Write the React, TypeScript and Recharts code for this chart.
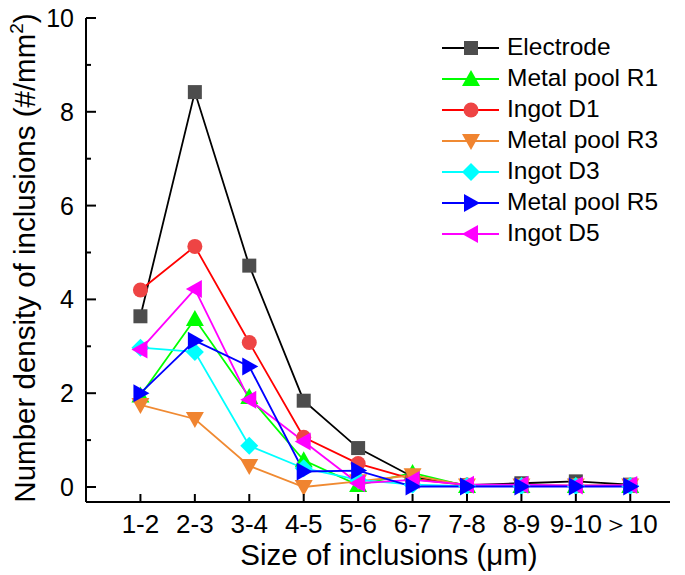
import React from "react"
import { LineChart, Line, XAxis, YAxis, Legend } from "recharts"

const sizes = ["1-2", "2-3", "3-4", "4-5", "5-6", "6-7", "7-8", "8-9", "9-10", "＞10"]
const electrode = [3.64, 8.42, 4.72, 1.84, 0.83, 0.22, 0.04, 0.08, 0.12, 0.05]
const metalPoolR1 = [1.95, 3.58, 1.92, 0.57, 0.04, 0.3, 0.02, 0.02, 0.02, 0.02]
const ingotD1 = [4.2, 5.13, 3.08, 1.06, 0.5, 0.17, 0.04, 0.03, 0.03, 0.03]
const metalPoolR3 = [1.75, 1.45, 0.45, 0.0, 0.12, 0.25, 0.03, 0.03, 0.03, 0.03]
const ingotD3 = [2.97, 2.88, 0.88, 0.4, 0.15, 0.05, 0.02, 0.02, 0.02, 0.02]
const metalPoolR5 = [2.0, 3.12, 2.57, 0.33, 0.35, 0.01, 0.01, 0.01, 0.01, 0.01]
const ingotD5 = [2.93, 4.22, 1.86, 0.97, 0.08, 0.15, 0.05, 0.05, 0.03, 0.04]
const yTicks = [0, 1, 2, 3, 4, 5, 6, 7, 8, 9, 10]
const xTicks = [1, 2, 3, 4, 5, 6, 7, 8, 9, 10]

const FONT = "'Liberation Sans', Arial, sans-serif"
const X_DOMAIN: [number, number] = [0, 10.73]
const Y_DOMAIN: [number, number] = [-0.32, 10]
const TICK_COLOR = "#000000"

type Shape = "square" | "up" | "circle" | "down" | "diamond" | "right" | "left"

const SERIES: { key: string; name: string; values: number[]; stroke: string; fill: string; shape: Shape }[] = [
  { key: "e", name: "Electrode", values: electrode, stroke: "#000000", fill: "#4d4d4d", shape: "square" },
  { key: "r1", name: "Metal pool R1", values: metalPoolR1, stroke: "#00ff00", fill: "#00ff00", shape: "up" },
  { key: "d1", name: "Ingot D1", values: ingotD1, stroke: "#ff0000", fill: "#ee4444", shape: "circle" },
  { key: "r3", name: "Metal pool R3", values: metalPoolR3, stroke: "#f08a32", fill: "#f08430", shape: "down" },
  { key: "d3", name: "Ingot D3", values: ingotD3, stroke: "#00ffff", fill: "#00ffff", shape: "diamond" },
  { key: "r5", name: "Metal pool R5", values: metalPoolR5, stroke: "#0000ff", fill: "#0000ff", shape: "right" },
  { key: "d5", name: "Ingot D5", values: ingotD5, stroke: "#ff00ff", fill: "#ff00ff", shape: "left" },
]
// draw order: magenta under blue
const DRAW_ORDER = ["e", "r1", "d1", "r3", "d3", "d5", "r5"]

const data = sizes.map((s, i) => {
  const row: Record<string, number | string> = { x: i + 1, label: s }
  SERIES.forEach((sr) => (row[sr.key] = sr.values[i]))
  return row
})

function Marker({ cx, cy, shape, fill }: { cx: number; cy: number; shape: Shape; fill: string }) {
  const t = 9
  switch (shape) {
    case "square":
      return <rect x={cx - 7} y={cy - 7} width={14} height={14} fill={fill} />
    case "circle":
      return <circle cx={cx} cy={cy} r={7.5} fill={fill} />
    case "diamond":
      return <polygon points={`${cx},${cy - 9} ${cx + 9},${cy} ${cx},${cy + 9} ${cx - 9},${cy}`} fill={fill} />
    case "up":
      return <polygon points={`${cx},${cy - t} ${cx + t},${cy + 7} ${cx - t},${cy + 7}`} fill={fill} />
    case "down":
      return <polygon points={`${cx},${cy + t} ${cx + t},${cy - 7} ${cx - t},${cy - 7}`} fill={fill} />
    case "right":
      return <polygon points={`${cx + t},${cy} ${cx - 7},${cy - t} ${cx - 7},${cy + t}`} fill={fill} />
    case "left":
      return <polygon points={`${cx - t},${cy} ${cx + 7},${cy - t} ${cx + 7},${cy + t}`} fill={fill} />
  }
}

// inward ticks: long at even values with a label, short at odd values
const YTick = (props: any) => {
  const x = Number(props.x)
  const y = Number(props.y)
  const v = props.payload.value as number
  const major = v % 2 === 0
  return (
    <g>
      <line x1={x} x2={x + (major ? 10 : 5)} y1={y} y2={y} stroke={TICK_COLOR} strokeWidth={2} />
      {major && (
        <text x={x - 12} y={y} dy="0.36em" textAnchor="end" fontSize={25} fontFamily={FONT} fill="#000">
          {v}
        </text>
      )}
    </g>
  )
}

const XTick = (props: any) => {
  const x = Number(props.x)
  const y = Number(props.y)
  return (
    <g>
      <line x1={x} x2={x} y1={y} y2={y - 8} stroke={TICK_COLOR} strokeWidth={2} />
      <text x={x} y={y + 31} textAnchor="middle" fontSize={26} fontFamily={FONT} fill="#000">
        {sizes[props.payload.value - 1]}
      </text>
    </g>
  )
}

const YTitle = (props: any) => {
  const vb = props.viewBox
  const cx = vb.x + 35
  const cy = vb.y + vb.height / 2 - 2
  return (
    <text x={cx} y={cy} transform={`rotate(-90 ${cx} ${cy})`} textAnchor="middle" fontSize={29.5} fontFamily={FONT} fill="#000">
      Number density of inclusions (#/mm
      <tspan dy={-12} fontSize={19}>2</tspan>
      <tspan dy={12}>)</tspan>
    </text>
  )
}

const XTitle = (props: any) => {
  const vb = props.viewBox
  return (
    <text x={vb.x + vb.width / 2 + 11} y={vb.y + 63} textAnchor="middle" fontSize={29.5} fontFamily={FONT} fill="#000">
      Size of inclusions (μm)
    </text>
  )
}

const LegendBox = () => (
  <div style={{ fontFamily: FONT, fontSize: 24.5, color: "#000", lineHeight: 1 }}>
    {SERIES.map((s) => (
      <div key={s.key} style={{ display: "flex", alignItems: "center", height: 31 }}>
        <svg width={64} height={24} style={{ marginRight: 1 }}>
          <line x1={0} x2={57} y1={12} y2={12} stroke={s.stroke} strokeWidth={1.8} />
          <Marker cx={29} cy={12} shape={s.shape} fill={s.fill} />
        </svg>
        <span>{s.name}</span>
      </div>
    ))}
  </div>
)

const axisLine = { stroke: "#000", strokeWidth: 2 }

export default function App() {
  const ordered = DRAW_ORDER.map((k) => SERIES.find((s) => s.key === k)!)
  return (
    <div style={{ position: "absolute", left: 0, top: 0, width: 685, height: 575, background: "#fff" }}>
      <LineChart width={685} height={575} data={data} margin={{ top: 18, right: 15, left: 0, bottom: 0 }}>
        <XAxis
          dataKey="x"
          type="number"
          domain={X_DOMAIN}
          ticks={xTicks}
          interval={0}
          tick={<XTick />}
          tickSize={0}
          tickMargin={0}
          height={73}
          axisLine={axisLine}
          tickLine={false}
          label={<XTitle />}
        />
        <XAxis xAxisId="top" orientation="top" type="number" domain={X_DOMAIN} height={0} tick={false} tickLine={false} axisLine={axisLine} />
        <YAxis
          type="number"
          domain={Y_DOMAIN}
          ticks={yTicks}
          interval={0}
          tick={<YTick />}
          tickSize={0}
          tickMargin={0}
          width={86}
          axisLine={axisLine}
          tickLine={false}
          label={<YTitle />}
        />
        <YAxis yAxisId="right" orientation="right" type="number" domain={Y_DOMAIN} width={0} tick={false} tickLine={false} axisLine={axisLine} />
        <Legend
          layout="horizontal"
          verticalAlign="middle"
          align="center"
          content={<LegendBox />}
          wrapperStyle={{ position: "absolute", left: 442, top: 32, width: 243 }}
        />
        {ordered.map((s) => (
          <Line
            key={s.key}
            type="linear"
            dataKey={s.key}
            name={s.name}
            stroke={s.stroke}
            strokeWidth={1.8}
            isAnimationActive={false}
            dot={(p: any) => <Marker key={`${s.key}-${p.index}`} cx={p.cx} cy={p.cy} shape={s.shape} fill={s.fill} />}
            activeDot={false}
          />
        ))}
      </LineChart>
    </div>
  )
}
